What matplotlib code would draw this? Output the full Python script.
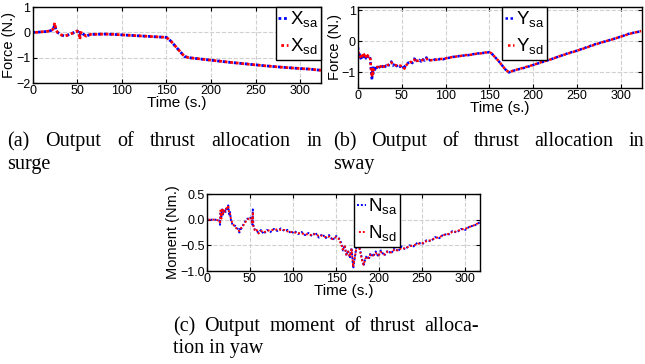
import matplotlib
matplotlib.use('Agg')
import matplotlib.pyplot as plt
import numpy as np

plt.rcParams['font.family'] = ['Liberation Sans', 'DejaVu Sans']
plt.rcParams['mathtext.fontset'] = 'custom'
plt.rcParams['mathtext.rm'] = 'Liberation Sans'
plt.rcParams['axes.unicode_minus'] = True

# ---- surge (a) ----
t_x = [0, 5, 10, 15, 20, 23, 25, 26, 28, 32, 36, 40, 45, 50, 52, 53, 54, 56, 60, 65,
       70, 80, 90, 100, 110, 120, 130, 140, 150, 155, 160, 165, 170, 175, 180, 200, 220,
       240, 260, 280, 300, 310, 323]
x_sa = [0.0, 0.0, 0.02, 0.03, 0.06, 0.12, 0.3, 0.1, 0.0, -0.1, -0.15, -0.1, -0.03, 0.05, 0.0,
        -0.12, 0.0, -0.05, -0.15, -0.08, -0.08, -0.07, -0.08, -0.1, -0.12, -0.14, -0.16,
        -0.18, -0.2, -0.35, -0.55, -0.75, -0.95, -1.0, -1.02, -1.1, -1.18, -1.25, -1.32,
        -1.38, -1.43, -1.45, -1.5]
x_sd = [0.0, 0.0, 0.02, 0.03, 0.06, 0.12, 0.38, 0.1, 0.0, -0.1, -0.15, -0.1, -0.03, 0.05, 0.0,
        -0.28, 0.0, -0.05, -0.15, -0.08, -0.08, -0.07, -0.08, -0.1, -0.12, -0.14, -0.16,
        -0.18, -0.2, -0.35, -0.55, -0.75, -0.95, -1.0, -1.02, -1.1, -1.18, -1.25, -1.32,
        -1.38, -1.43, -1.45, -1.5]

# ---- sway (b) ----
t_y = [0, 1, 2, 3, 4, 5, 6, 7, 8, 9,
       10, 11, 12, 13, 14, 15, 16, 16.5, 17, 18,
       19, 20, 22, 24, 26, 28, 30, 32, 34, 36,
       38, 40, 42, 44, 46, 48, 50, 52, 53, 54,
       56, 58, 60, 62, 64, 65, 66, 68, 70, 72,
       74, 76, 78, 80, 82, 85, 88, 91, 94, 97,
       100, 104, 108, 112, 116, 120, 125, 130, 135, 140,
       145, 150, 152, 160, 168, 172, 180, 190, 200, 210,
       220, 230, 240, 250, 260, 270, 280, 290, 300, 310,
       323]
y_sa = [-0.2, -0.5, -0.42, -0.55, -0.45, -0.52, -0.43, -0.5, -0.45, -0.55,
        -0.47, -0.5, -0.45, -0.52, -0.55, -1.0, -1.25, -0.85, -1.1, -0.85,
        -0.95, -0.8, -0.9, -0.82, -0.88, -0.8, -0.86, -0.78, -0.82, -0.72,
        -0.65, -0.78, -0.72, -0.8, -0.75, -0.82, -0.76, -0.85, -0.9, -0.78,
        -0.72, -0.68, -0.65, -0.7, -0.6, -0.52, -0.6, -0.65, -0.6, -0.65,
        -0.58, -0.62, -0.52, -0.62, -0.6, -0.62, -0.58, -0.6, -0.56, -0.58,
        -0.55, -0.53, -0.5, -0.5, -0.47, -0.46, -0.45, -0.42, -0.4, -0.38,
        -0.37, -0.35, -0.38, -0.62, -0.9, -1.0, -0.92, -0.85, -0.76, -0.67,
        -0.58, -0.48, -0.38, -0.3, -0.2, -0.1, -0.02, 0.06, 0.15, 0.25,
        0.32]
y_sd = [-0.25, -0.45, -0.5, -0.48, -0.55, -0.45, -0.5, -0.42, -0.52, -0.48,
        -0.52, -0.45, -0.5, -0.48, -0.52, -0.95, -1.15, -0.9, -1.05, -0.9,
        -0.88, -0.85, -0.82, -0.88, -0.8, -0.86, -0.8, -0.82, -0.76, -0.75,
        -0.68, -0.74, -0.76, -0.78, -0.8, -0.78, -0.8, -0.82, -0.88, -0.8,
        -0.74, -0.7, -0.66, -0.68, -0.62, -0.56, -0.62, -0.63, -0.62, -0.62,
        -0.6, -0.6, -0.56, -0.6, -0.62, -0.6, -0.6, -0.58, -0.57, -0.56,
        -0.55, -0.52, -0.51, -0.49, -0.48, -0.45, -0.44, -0.43, -0.4, -0.39,
        -0.36, -0.36, -0.38, -0.62, -0.9, -0.99, -0.92, -0.84, -0.76, -0.66,
        -0.58, -0.48, -0.39, -0.3, -0.21, -0.11, -0.02, 0.06, 0.15, 0.24,
        0.33]

# ---- yaw (c) ----
t_n = [0, 10, 15, 15.5, 16, 17, 18, 19, 20, 21,
       22, 23, 24, 25, 26, 27, 28, 30, 33, 36,
       38, 39, 40, 43, 46, 50, 52, 53, 53.5, 54,
       56, 58, 60, 63, 66, 70, 74, 78, 82, 86,
       90, 94, 98, 102, 106, 110, 114, 118, 122, 126,
       130, 134, 138, 142, 146, 150, 153, 156, 158, 160,
       162, 164, 166, 168, 170, 172, 174, 176, 178, 180,
       182, 184, 186, 188, 190, 193, 196, 199, 202, 206,
       210, 214, 218, 222, 226, 230, 235, 240, 245, 250,
       255, 260, 265, 270, 275, 280, 285, 290, 295, 300,
       305, 310, 317]
n_sa = [0.0, 0.0, -0.02, -0.1, 0.15, 0.05, 0.2, 0.1, 0.15, 0.2,
        0.15, 0.25, 0.18, 0.28, 0.1, 0.15, 0.0, -0.1, -0.12, -0.18,
        -0.25, -0.15, -0.18, -0.08, 0.0, 0.05, 0.0, -0.1, 0.2, -0.1,
        -0.2, -0.22, -0.25, -0.2, -0.28, -0.2, -0.24, -0.18, -0.22, -0.17,
        -0.22, -0.2, -0.27, -0.22, -0.28, -0.24, -0.3, -0.26, -0.32, -0.25,
        -0.35, -0.28, -0.36, -0.3, -0.4, -0.32, -0.35, -0.45, -0.6, -0.5,
        -0.7, -0.6, -0.75, -0.55, -0.95, -0.7, -0.5, -0.45, -0.6, -0.75,
        -0.9, -0.75, -0.7, -0.78, -0.65, -0.72, -0.62, -0.72, -0.6, -0.7,
        -0.6, -0.66, -0.55, -0.62, -0.52, -0.58, -0.5, -0.52, -0.44, -0.48,
        -0.4, -0.42, -0.34, -0.36, -0.28, -0.3, -0.22, -0.25, -0.18, -0.2,
        -0.13, -0.12, -0.05]
n_sd = [0.0, 0.0, -0.02, -0.08, 0.18, 0.02, 0.22, 0.12, 0.18, 0.16,
        0.2, 0.22, 0.2, 0.28, 0.12, 0.12, 0.02, -0.08, -0.14, -0.2,
        -0.22, -0.18, -0.16, -0.1, -0.02, 0.04, 0.02, -0.08, 0.15, -0.12,
        -0.22, -0.2, -0.27, -0.22, -0.25, -0.22, -0.2, -0.2, -0.19, -0.2,
        -0.2, -0.23, -0.24, -0.25, -0.26, -0.27, -0.28, -0.29, -0.3, -0.28,
        -0.32, -0.31, -0.34, -0.33, -0.38, -0.34, -0.37, -0.48, -0.58, -0.52,
        -0.68, -0.62, -0.72, -0.58, -0.92, -0.72, -0.52, -0.48, -0.62, -0.78,
        -0.88, -0.76, -0.72, -0.75, -0.68, -0.7, -0.65, -0.7, -0.63, -0.68,
        -0.62, -0.64, -0.58, -0.6, -0.55, -0.56, -0.52, -0.5, -0.47, -0.46,
        -0.42, -0.4, -0.36, -0.34, -0.3, -0.28, -0.24, -0.23, -0.19, -0.18,
        -0.14, -0.11, -0.05]

W, H = 645, 364
fig = plt.figure(figsize=(W / 100, H / 100), dpi=100)


def px_axes(l, t, r, b):
    return fig.add_axes([l / W, 1 - b / H, (r - l) / W, (b - t) / H])


def style(ax, xlim, ylim, yticks, ylabel):
    ax.set_xlim(*xlim)
    ax.set_ylim(*ylim)
    ax.set_xticks([0, 50, 100, 150, 200, 250, 300])
    ax.set_yticks(yticks)
    ax.grid(True, linestyle='--', color='#d0d0d0', linewidth=0.8)
    ax.set_axisbelow(True)
    ax.tick_params(direction='in', top=True, right=True, length=3, labelsize=9, pad=1.5)
    for s in ax.spines.values():
        s.set_linewidth(1.0)
    ax.set_xlabel('Time (s.)', fontsize=11, labelpad=-1)
    ax.set_ylabel(ylabel, fontsize=10.5, labelpad=0)


def draw(ax, t, sa, sd, name, loc, anchor, lw):
    ax.plot(t, sa, color='blue', linestyle=(0, (1, 1)), linewidth=lw,
            label=r'$\mathrm{%s}_{\mathrm{sa}}$' % name)
    ax.plot(t, sd, color='red', linestyle=(1, (1, 1)), linewidth=lw,
            label=r'$\mathrm{%s}_{\mathrm{sd}}$' % name)
    leg = ax.legend(loc=loc, bbox_to_anchor=anchor, fontsize=13.5, handlelength=0.5,
                    handletextpad=0.1, labelspacing=0.35, borderpad=0.15, borderaxespad=0,
                    fancybox=False, framealpha=1, edgecolor='black')
    leg.get_frame().set_linewidth(1.0)


ax1 = px_axes(32.5, 7, 321, 83)
draw(ax1, t_x, x_sa, x_sd, 'X', 'upper right', (1.0, 1.0), 2.0)
style(ax1, (0, 323), (-2, 1), [-2, -1, 0, 1], 'Force (N.)')

ax2 = px_axes(358, 7, 642, 88)
draw(ax2, t_y, y_sa, y_sd, 'Y', 'upper left', (144 / 284, 1.0), 1.8)
style(ax2, (0, 324), (-1.5, 1.1), [-1, 0, 1], 'Force (N.)')

ax3 = px_axes(206.7, 194, 480, 271)
draw(ax3, t_n, n_sa, n_sd, 'N', 'upper left', (147.3 / 273.3, 1.0), 1.4)
style(ax3, (0, 317), (-1, 0.5), [-1, -0.5, 0, 0.5], 'Moment (Nm.)')

renderer = fig.canvas.get_renderer()
cap_kw = dict(family=['Liberation Serif', 'DejaVu Serif'], fontsize=14.5, va='baseline', ha='left')


def justified(text, x0, x1, y):
    words = text.split()
    txts = [fig.text(0, 1 - y / H, w, **cap_kw) for w in words]
    ws = [t.get_window_extent(renderer).width for t in txts]
    gap = (x1 - x0 - sum(ws)) / (len(words) - 1)
    x = x0
    for t, w in zip(txts, ws):
        t.set_x(x / W)
        x += w + gap


justified('(a) Output of thrust allocation in', 7, 322, 146)
fig.text(7 / W, 1 - 169 / H, 'surge', **cap_kw)
justified('(b) Output of thrust allocation in', 333, 644, 146)
fig.text(333 / W, 1 - 169 / H, 'sway', **cap_kw)
justified('(c) Output moment of thrust alloca-', 173, 479, 331)
fig.text(173 / W, 1 - 353 / H, 'tion in yaw', **cap_kw)

fig.savefig('out.png', dpi=100)
